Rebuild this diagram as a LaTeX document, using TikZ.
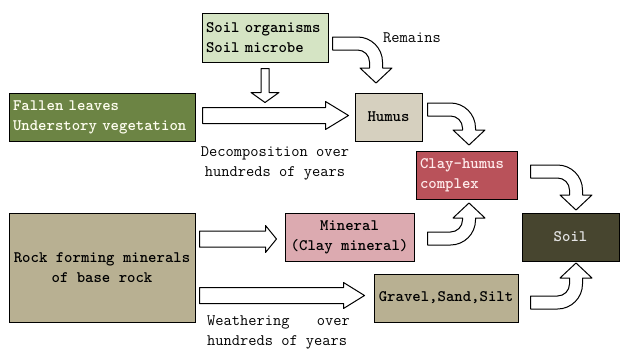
\documentclass[tikz,border=0pt]{standalone}
\usepackage{fontspec}
\usetikzlibrary{calc}

\definecolor{microbegreen}{HTML}{D5E4C4}
\definecolor{leafgreen}{HTML}{6C8444}
\definecolor{humusgrey}{HTML}{D6D0BF}
\definecolor{clayred}{HTML}{B9525A}
\definecolor{rocktan}{HTML}{B8B092}
\definecolor{mineralpink}{HTML}{DCAAB0}
\definecolor{soilbrown}{HTML}{47452F}

% bent hollow arrows, start at the left end of the shaft
\newcommand{\turndown}[3]{%
  \draw[hollow] #1 -- ++(#2,0) arc[start angle=90,end angle=0,radius=25]
    -- ++(0,-#3) -- ++(9.5,0) -- ++(-16,-15) -- ++(-16,15) -- ++(9.5,0)
    -- ++(0,#3) arc[start angle=0,end angle=90,radius=12] -- ++(-#2,0) -- cycle;}
\newcommand{\turnup}[3]{%
  \draw[hollow] #1 -- ++(#2,0) arc[start angle=-90,end angle=0,radius=25]
    -- ++(0,#3) -- ++(9.5,0) -- ++(-16,15) -- ++(-16,-15) -- ++(9.5,0)
    -- ++(0,-#3) arc[start angle=0,end angle=-90,radius=12] -- ++(-#2,0) -- cycle;}

\begin{document}
\begin{tikzpicture}[x=1pt, y=1pt,
  box/.style={draw, line width=1pt, inner sep=4pt, minimum height=48,
    font=\ttfamily\bfseries\fontsize{16}{20}\selectfont},
  note/.style={font=\ttfamily\fontsize{16}{20}\selectfont, inner sep=0pt},
  hollow/.style={draw, line width=1pt, fill=white, line join=round}]

% background
\fill[white] (0,0) rectangle (620,349);
\useasboundingbox (0,0) rectangle (620,349);

% organic side
\node[box, fill=microbegreen, text width=118, align=left] (microbe) at (265,311)
  {Soil organisms\\Soil microbe};
\node[box, fill=leafgreen, text=white!94!yellow, text width=178, align=left] (leaves) at (102,232)
  {Fallen leaves\\Understory vegetation};
\node[box, fill=humusgrey, minimum width=67] (humus) at (388.5,232) {Humus};
\node[box, fill=clayred, text=white!92!red, text width=93, align=left] (clayhumus) at (466.5,174)
  {Clay-humus\\complex};

% mineral side
\node[box, fill=rocktan, minimum width=186, minimum height=109, align=center] (rock) at (102,81.5)
  {Rock forming minerals\\of base rock};
\node[box, fill=mineralpink, minimum width=129, align=center] (mineral) at (349.5,112)
  {Mineral\\(Clay mineral)};
\node[box, fill=rocktan, minimum width=144] (gravel) at (446,51) {Gravel,Sand,Silt};
\node[box, fill=soilbrown, text=white!90!black, minimum width=97] (soil) at (570.5,112) {Soil};

% straight arrows
\draw[hollow] ($(microbe.south)+(-4,-6)$) -- ++(0,-24) -- ++(-10,0) -- ++(14,-10)
  -- ++(14,10) -- ++(-10,0) -- ++(0,24) -- cycle;
\draw[hollow] ($(leaves.east)+(7,-6.5)$) -- ++(123,0) -- ++(0,-6) -- ++(23,14)
  -- ++(-23,14) -- ++(0,-6) -- ++(-123,0) -- cycle;
\draw[hollow] ($(rock.east |- mineral.west)+(4,-10)$) -- ++(66,0) -- ++(0,-5.5) -- ++(11,13.5)
  -- ++(-11,13.5) -- ++(0,-5.5) -- ++(-66,0) -- cycle;
\draw[hollow] ($(rock.east |- gravel.west)+(4,-5.5)$) -- ++(144,0) -- ++(0,-5) -- ++(21,13)
  -- ++(-21,13) -- ++(0,-5) -- ++(-144,0) -- cycle;

% bent arrows
\turndown{($(microbe.east)+(4,1)$)}{25}{6}
\turndown{($(humus.east)+(5,14)$)}{23}{2}
\turndown{($(clayhumus.east)+(13,10)$)}{27}{5}
\turnup{($(mineral.east)+(13,-8)$)}{23}{2}
\turnup{($(gravel.east)+(12,-11)$)}{27}{6}

% labels
\node[note] (remains) at (412,311) {Remains};
\node[note, align=center] (decomp) at (275,185.5) {Decomposition over\\hundreds of years};
\node[note, align=left] (weather) at (278.5,17)
  {\makebox[8.925em][s]{Weathering\hfill over}\\hundreds of years};

\end{tikzpicture}
\end{document}
